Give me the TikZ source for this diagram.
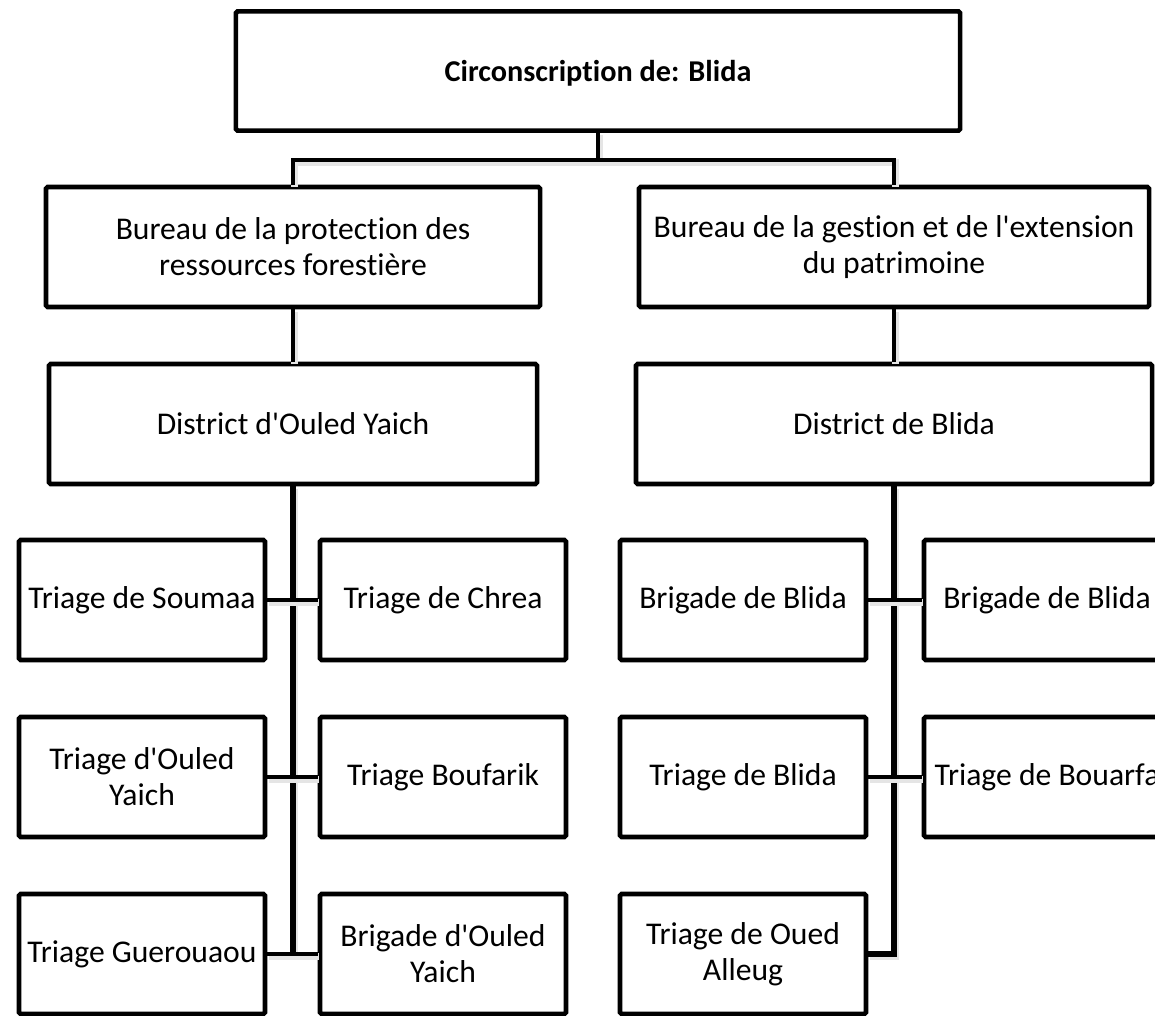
\documentclass[tikz,border=0pt]{standalone}
\usepackage{fontspec}
\setmainfont{Carlito}[Ligatures={NoCommon}]
\newcommand{\q}{\textquotesingle}
\newcommand{\nolig}{\kern0pt }

\tikzset{
    orgbox/.style={draw, line width=3.3pt, rounded corners=1.2pt, fill=white,
        align=center, inner sep=2pt, font=\fontsize{22.5}{25.5}\selectfont},
    unitbox/.style={orgbox, minimum width=6.15cm, minimum height=3.0cm},
    link/.style={line width=3.3pt,
        preaction={draw=black!10, line width=5pt, transform canvas={shift={(1.2pt,-1.8pt)}}}},
    spine/.style={link, line width=4pt},
}

\begin{document}
\begin{tikzpicture}[x=0.025cm, y=-0.025cm]

    % Page frame
    \useasboundingbox (0, 0) rectangle (1155, 1015);
    \clip (0, 0) rectangle (1155, 1015);

    % Circonscription
    \node[orgbox, minimum width=18.1cm, minimum height=2.98cm, font=\fontsize{21.5}{26}\selectfont\bfseries,
        text depth=-8pt] (circ) at (598, 71) {Circonscript\nolig ion de: Blida};

    % Bureaus
    \node[orgbox, minimum width=12.35cm, minimum height=3.0cm] (bprot) at (293, 247)
        {Bureau de la protect\nolig ion des\\ressources forestière};
    \node[orgbox, minimum width=12.75cm, minimum height=3.0cm] (bgest) at (894, 247)
        {Bureau de la gest\nolig ion et de l\q extension\\du patrimoine};

    % Districts
    \node[orgbox, minimum width=12.2cm, minimum height=3.0cm] (dyaich) at (293, 424)
        {District d\q Ouled Yaich};
    \node[orgbox, minimum width=12.9cm, minimum height=3.0cm] (dblida) at (894, 424)
        {District de Blida};

    % Triages and brigades
    \foreach \name/\x/\y/\txt in {
        tsoum/142/600/{Triage de Soumaa},
        tchrea/443/600/{Triage de Chrea},
        tyaich/142/777/{Triage d\q Ouled\\Yaich},
        tboufa/443/777/{Triage Boufarik},
        tguer/142/954/{Triage Guerouaou},
        byaich/443/954/{Brigade d\q Ouled\\Yaich},
        bblidaa/743/600/{Brigade de Blida},
        bblidab/1047/600/{Brigade de Blida},
        tblida/743/777/{Triage de Blida},
        tbouar/1047/777/{Triage de Bouarfa},
        toued/743/954/{Triage de Oued\\Alleug}} {
        \node[unitbox] (\name) at (\x, \y) {\txt};
    }

    % Links from the circonscription
    \draw[link] (circ.south) -- ++(0, 27) -| (bprot.north);
    \draw[link] (circ.south) -- ++(0, 27) -| (bgest.north);

    % Bureaus to districts
    \draw[link] (bprot.south) -- (dyaich.north);
    \draw[link] (bgest.south) -- (dblida.north);

    % Spine of District d'Ouled Yaich
    \draw[spine] (dyaich.south) -- (dyaich.south |- tguer.east);
    \draw[link] (tsoum.east) -- (tchrea.west);
    \draw[link] (tyaich.east) -- (tboufa.west);
    \draw[link] (tguer.east) -- (byaich.west);

    % Spine of District de Blida
    \draw[spine] (dblida.south) |- (toued.east);
    \draw[link] (bblidaa.east) -- (bblidab.west);
    \draw[link] (tblida.east) -- (tbouar.west);

\end{tikzpicture}
\end{document}
